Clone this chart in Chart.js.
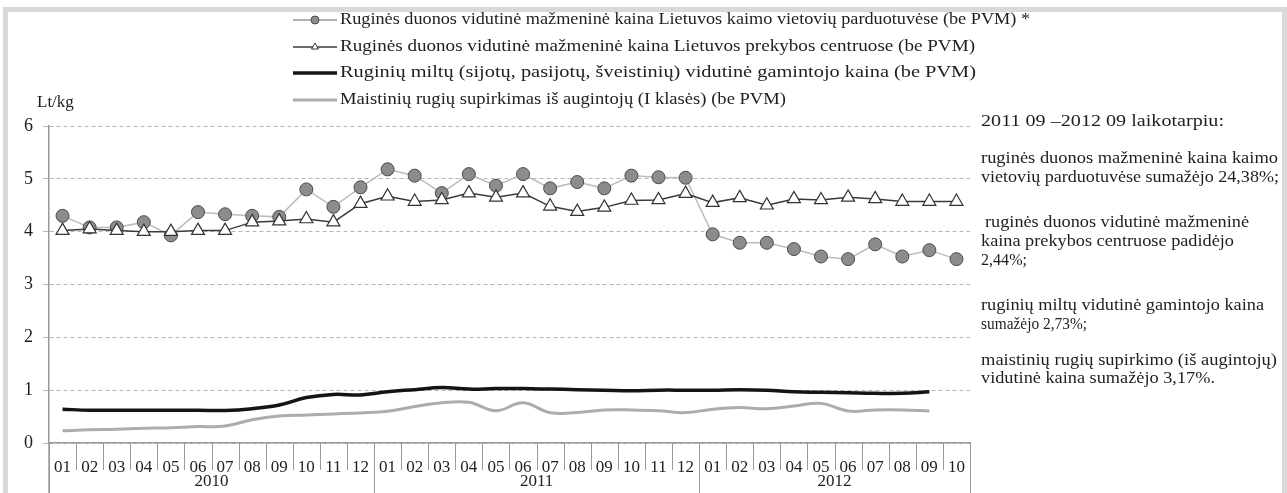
<!DOCTYPE html>
<html>
<head>
<meta charset="utf-8">
<script src="https://cdn.jsdelivr.net/npm/chart.js@4.4.1/dist/chart.umd.min.js"></script>
<style>
  html, body { margin: 0; padding: 0; background: #fff; }
  #wrap { position: relative; width: 1287px; height: 493px; overflow: hidden; }
  #frame { position: absolute; left: 3px; top: 7px; width: 1274px; height: 520px; border: 5px solid #d9d9d9; }
  #chart { position: absolute; left: 0; top: 0; }
  #note { position: absolute; left: 0; top: 0; }
</style>
</head>
<body>
<div id="wrap">
  <div id="frame"></div>
  <canvas id="chart" width="1287" height="493"></canvas>
  <svg id="note" width="1287" height="493" font-family="Liberation Serif, serif" font-size="17" fill="#1e1e1e">
    <text x="981" y="126" textLength="243" lengthAdjust="spacingAndGlyphs">2011 09 –2012 09 laikotarpiu:</text>
    <text x="981" y="163" textLength="297" lengthAdjust="spacingAndGlyphs">ruginės duonos mažmeninė kaina  kaimo</text>
    <text x="981" y="182" textLength="298" lengthAdjust="spacingAndGlyphs">vietovių parduotuvėse sumažėjo 24,38%;</text>
    <text x="985" y="227" textLength="264" lengthAdjust="spacingAndGlyphs">ruginės duonos vidutinė mažmeninė</text>
    <text x="981" y="246" textLength="253" lengthAdjust="spacingAndGlyphs">kaina prekybos centruose padidėjo</text>
    <text x="981" y="265" textLength="46" lengthAdjust="spacingAndGlyphs">2,44%;</text>
    <text x="981" y="310" textLength="283" lengthAdjust="spacingAndGlyphs">ruginių miltų vidutinė gamintojo kaina</text>
    <text x="981" y="329" textLength="106" lengthAdjust="spacingAndGlyphs">sumažėjo 2,73%;</text>
    <text x="981" y="365" textLength="296" lengthAdjust="spacingAndGlyphs">maistinių rugių supirkimo (iš augintojų)</text>
    <text x="981" y="383" textLength="234" lengthAdjust="spacingAndGlyphs">vidutinė kaina sumažėjo  3,17%.</text>
  </svg>
</div>
<script>
// months of 2010-01 .. 2012-10
const months = ['01','02','03','04','05','06','07','08','09','10','11','12',
                '01','02','03','04','05','06','07','08','09','10','11','12',
                '01','02','03','04','05','06','07','08','09','10'];
const years = ['2010', '2011', '2012'];
const monthsPerYear = [12, 12, 10];

const seriesNames = [
  'Ruginės duonos vidutinė mažmeninė kaina Lietuvos kaimo vietovių parduotuvėse (be PVM) *',
  'Ruginės duonos vidutinė mažmeninė kaina Lietuvos prekybos centruose (be PVM)',
  'Ruginių miltų (sijotų, pasijotų, šveistinių) vidutinė gamintojo kaina (be PVM)',
  'Maistinių rugių supirkimas iš augintojų (I klasės) (be PVM)'
];

// Lt/kg
const breadRural = [4.30, 4.08, 4.08, 4.18, 3.93, 4.37, 4.33, 4.30, 4.28, 4.80, 4.47, 4.84,
                    5.18, 5.06, 4.73, 5.09, 4.87, 5.09, 4.82, 4.94, 4.82, 5.06, 5.03, 5.02,
                    3.95, 3.79, 3.79, 3.67, 3.53, 3.48, 3.76, 3.53, 3.65, 3.48];
const breadMalls = [4.02, 4.05, 4.02, 4.00, 4.00, 4.02, 4.02, 4.18, 4.20, 4.24, 4.18, 4.53,
                    4.67, 4.57, 4.60, 4.73, 4.65, 4.73, 4.48, 4.38, 4.46, 4.59, 4.60, 4.72,
                    4.55, 4.64, 4.50, 4.62, 4.60, 4.65, 4.62, 4.57, 4.57, 4.57];
const flourPrice = [0.64, 0.62, 0.62, 0.62, 0.62, 0.62, 0.615, 0.65, 0.72, 0.86, 0.92, 0.91,
                    0.97, 1.01, 1.05, 1.02, 1.03, 1.03, 1.02, 1.01, 1.00, 0.99, 1.00, 1.00,
                    1.00, 1.01, 1.00, 0.97, 0.96, 0.95, 0.94, 0.94, 0.97, null];
const ryePurchase = [0.23, 0.25, 0.26, 0.28, 0.29, 0.31, 0.32, 0.44, 0.51, 0.53, 0.55, 0.57,
                     0.60, 0.69, 0.76, 0.77, 0.61, 0.76, 0.575, 0.575, 0.625, 0.625, 0.61, 0.575,
                     0.64, 0.67, 0.65, 0.70, 0.75, 0.605, 0.625, 0.625, 0.605, null];

const serif = '"Liberation Serif", "Times New Roman", serif';
const textColor = '#1e1e1e';

// x axis boxes, year row, y axis extension, legend and unit label
const extras = {
  id: 'extras',
  afterDraw(chart) {
    const { ctx, chartArea } = chart;
    const x = chart.scales.x;
    const step = x.getPixelForValue(1) - x.getPixelForValue(0);
    const h = chart.height;
    ctx.save();

    // category separators
    ctx.strokeStyle = '#9a9a9a';
    ctx.lineWidth = 1;
    ctx.beginPath();
    const yearEdges = [0];
    monthsPerYear.forEach((n, i) => yearEdges.push(yearEdges[i] + n));
    for (let i = 0; i <= months.length; i++) {
      const bx = Math.round(x.getPixelForValue(i) - step / 2) + 0.5;
      const isYear = yearEdges.includes(i);
      ctx.moveTo(bx, chartArea.bottom);
      ctx.lineTo(bx, isYear ? h : chartArea.bottom + 27);
    }
    ctx.stroke();

    // y axis line continues below the plot
    ctx.strokeStyle = '#999';
    ctx.lineWidth = 1.5;
    ctx.beginPath();
    ctx.moveTo(chartArea.left, chartArea.bottom);
    ctx.lineTo(chartArea.left, h);
    ctx.stroke();

    // year labels
    ctx.fillStyle = textColor;
    ctx.font = '17px ' + serif;
    ctx.textAlign = 'center';
    ctx.textBaseline = 'middle';
    years.forEach((yr, i) => {
      const a = x.getPixelForValue(yearEdges[i]) - step / 2;
      const b = x.getPixelForValue(yearEdges[i + 1]) - step / 2;
      ctx.fillText(yr, (a + b) / 2, chartArea.bottom + 39);
    });

    // unit
    ctx.textAlign = 'left';
    ctx.font = '17px ' + serif;
    ctx.fillText('Lt/kg', 37, 103);

    // legend
    const rowY = [20, 47, 73, 100];
    const textEnd = [1030, 975, 976, 786];
    chart.data.datasets.forEach((ds, i) => {
      const y = rowY[i];
      ctx.strokeStyle = ds.legendLine || ds.borderColor;
      ctx.lineWidth = ds.borderWidth;
      ctx.beginPath();
      ctx.moveTo(293, y);
      ctx.lineTo(337, y);
      ctx.stroke();
      if (ds.pointRadius > 0) {
        ctx.fillStyle = ds.pointBackgroundColor;
        ctx.strokeStyle = ds.pointBorderColor;
        ctx.lineWidth = 1;
        Chart.helpers.drawPoint(ctx, { pointStyle: ds.pointStyle, radius: 4, borderWidth: 1, rotation: 0 }, 315, y);
      }
      ctx.fillStyle = textColor;
      ctx.font = '17px ' + serif;
      ctx.textBaseline = 'middle';
      const w = ctx.measureText(ds.label).width;
      const sx = (textEnd[i] - 340) / w;
      ctx.save();
      ctx.translate(340, y);
      ctx.scale(sx, 1);
      ctx.fillText(ds.label, 0, 0);
      ctx.restore();
    });

    ctx.restore();
  }
};

new Chart(document.getElementById('chart'), {
  type: 'line',
  data: {
    labels: months,
    datasets: [
      {
        label: seriesNames[0],
        data: breadRural,
        order: 1,
        borderColor: '#bcbcbc',
        legendLine: '#9a9a9a',
        borderWidth: 1.5,
        pointStyle: 'circle',
        pointRadius: 6.5,
        pointBackgroundColor: '#8c8c8c',
        pointBorderColor: '#4a4a4a',
        pointBorderWidth: 1,
        tension: 0
      },
      {
        label: seriesNames[1],
        data: breadMalls,
        order: 0,
        borderColor: '#3a3a3a',
        borderWidth: 1.5,
        pointStyle: 'triangle',
        pointRadius: 7.5,
        pointBackgroundColor: '#ffffff',
        pointBorderColor: '#333333',
        pointBorderWidth: 1.2,
        tension: 0
      },
      {
        label: seriesNames[2],
        data: flourPrice,
        order: 2,
        borderColor: '#141414',
        borderWidth: 3.5,
        pointRadius: 0,
        tension: 0.4
      },
      {
        label: seriesNames[3],
        data: ryePurchase,
        order: 3,
        borderColor: '#acacac',
        borderWidth: 3,
        pointRadius: 0,
        tension: 0.4
      }
    ]
  },
  options: {
    responsive: false,
    animation: false,
    devicePixelRatio: 1,
    events: [],
    layout: { padding: { top: 126, right: 317, left: 0, bottom: 0 } },
    plugins: {
      legend: { display: false },
      tooltip: { enabled: false },
      title: { display: false }
    },
    scales: {
      x: {
        type: 'category',
        offset: true,
        afterFit: (s) => { s.height = 50; },
        grid: { display: false },
        border: { display: true, color: '#999', width: 1.5 },
        ticks: {
          autoSkip: false,
          maxRotation: 0,
          padding: 6,
          color: textColor,
          font: { family: serif, size: 17 }
        }
      },
      y: {
        min: 0,
        max: 6,
        afterFit: (s) => { s.width = 49; },
        grid: { color: '#b5b5b5', lineWidth: 1, tickLength: 6, drawTicks: true },
        border: { display: true, color: '#999', width: 1.5, dash: [4, 3] },
        ticks: {
          stepSize: 1,
          padding: 10,
          color: textColor,
          font: { family: serif, size: 18 }
        }
      }
    }
  },
  plugins: [extras]
});
</script>
</body>
</html>
